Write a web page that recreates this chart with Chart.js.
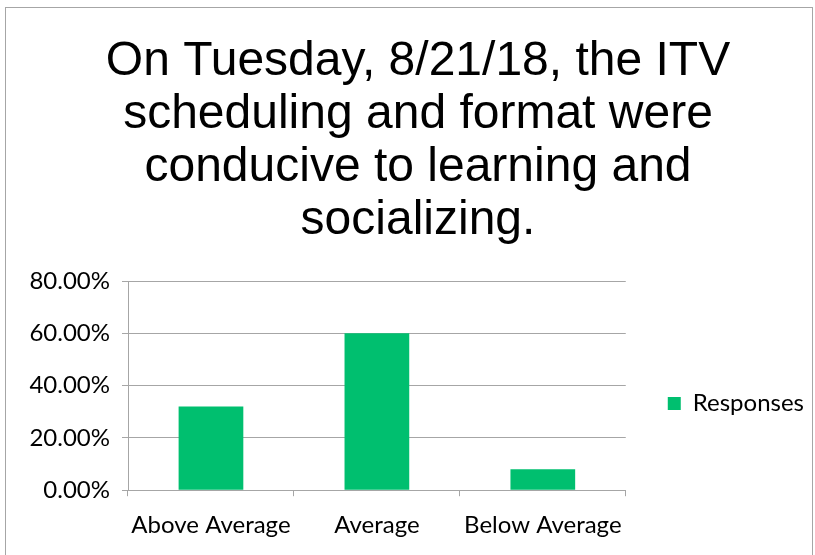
<!DOCTYPE html>
<html>
<head>
<meta charset="utf-8">
<script src="https://cdn.jsdelivr.net/npm/chart.js@4/dist/chart.umd.min.js"></script>
<style>
  html, body { margin: 0; padding: 0; background: #fff; }
  #wrap { position: absolute; left: 0; top: 0; width: 815px; height: 555px; }
  #frame { position: absolute; left: 5px; top: 7px; width: 806px; height: 600px; border: 1px solid #a6a6a6; pointer-events: none; }
</style>
</head>
<body>
<div id="frame"></div>
<div id="wrap"><canvas id="chart"></canvas></div>
<script>
// ------------------ DATA ------------------
const titleLines = [
  "On Tuesday, 8/21/18, the ITV",
  "scheduling and format were",
  "conducive to learning and",
  "socializing."
];
const categories = ["Above Average", "Average", "Below Average"];
const responses = [0.32, 0.60, 0.08];
const seriesName = "Responses";
const yMax = 0.8;
const yStep = 0.2;

// ------------------ CHART ------------------
const labelFont = { family: "Lato, 'Open Sans', sans-serif", size: 24 };

const ctx = document.getElementById("chart").getContext("2d");
new Chart(ctx, {
  type: "bar",
  data: {
    labels: categories,
    datasets: [{
      label: seriesName,
      data: responses,
      backgroundColor: "#00bf6f",
      categoryPercentage: 1,
      barPercentage: 0.39,
    }],
  },
  options: {
    responsive: true,
    maintainAspectRatio: false,
    animation: false,
    layout: { padding: { left: 22, right: 1, top: 0, bottom: 0 } },
    plugins: {
      title: {
        display: true,
        text: titleLines,
        color: "#000",
        font: { family: "'Liberation Sans', Arial, sans-serif", size: 48, weight: "normal", lineHeight: 53 / 48 },
        padding: { top: 35, bottom: 34 },
      },
      legend: {
        position: "right",
        fullSize: false,
        // blank legend title only pushes the entry down a bit
        title: { display: true, text: " ", padding: 0, font: { size: 30, lineHeight: 1.2 } },
        labels: {
          color: "#000",
          boxWidth: 13,
          boxHeight: 13,
          padding: 42,
          font: labelFont,
        },
      },
      tooltip: { enabled: false },
    },
    scales: {
      x: {
        grid: { drawOnChartArea: false, tickLength: 6, color: "#a6a6a6" },
        border: { color: "#a6a6a6" },
        ticks: { color: "#000", padding: 15, font: labelFont },
      },
      y: {
        min: 0,
        max: yMax,
        afterFit: (scale) => { scale.width = 106; },
        grid: { tickLength: 6, color: "#a6a6a6" },
        border: { color: "#a6a6a6" },
        ticks: {
          stepSize: yStep,
          color: "#000",
          padding: 12,
          font: labelFont,
          callback: (v) => (v * 100).toFixed(2) + "%",
        },
      },
    },
  },
});
</script>
</body>
</html>
